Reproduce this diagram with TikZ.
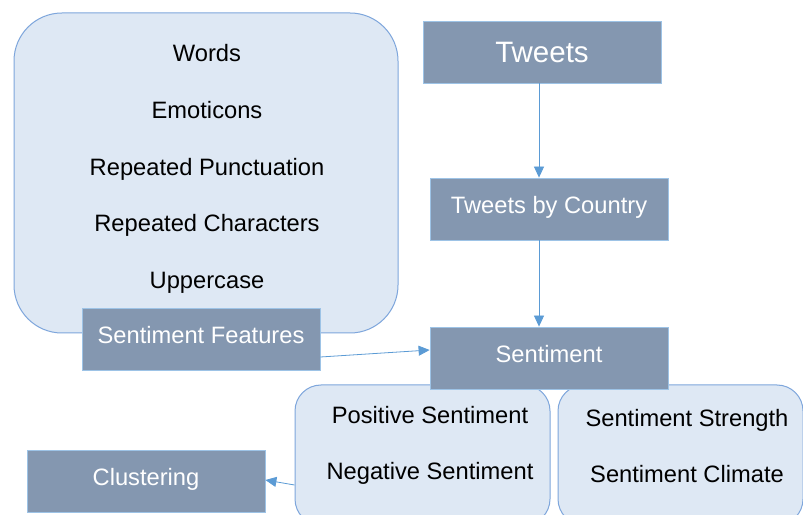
\documentclass[tikz,border=0pt]{standalone}
\usepackage{fontspec}
\setmainfont{Liberation Sans}
\usetikzlibrary{arrows.meta}

\definecolor{procfill}{HTML}{8497B0}
\definecolor{procline}{HTML}{9DC3E6}
\definecolor{groupfill}{HTML}{DEE8F4}
\definecolor{groupline}{HTML}{7EA6DC}
\definecolor{flowline}{HTML}{5B9BD5}

\tikzset{
  procbox/.style={draw=procline, fill=procfill, line width=0.8pt, text=white,
    minimum width=238pt, minimum height=62pt, inner sep=0pt,
    text height=17pt, text depth=8pt,
    font=\fontsize{23.7}{28}\selectfont},
  groupbox/.style={draw=groupline, fill=groupfill, line width=1pt,
    rounded corners=26pt, inner sep=0pt},
  itemtext/.style={inner sep=0pt, text height=17pt, text depth=0pt,
    font=\fontsize{23.7}{28}\selectfont},
  flow/.style={draw=flowline, line width=0.8pt,
    -{Triangle[length=11pt,width=10pt]}}
}

\begin{document}
\begin{tikzpicture}[x=1pt, y=1pt]
\clip (0,0) rectangle (803,514);
\fill[white] (0,0) rectangle (803,514);

% feature group
\node[groupbox, rounded corners=48pt, minimum width=384pt, minimum height=320pt] (featgroup) at (206,341) {};
\node[itemtext] (words)  at (207,461) {Words};
\node[itemtext] (emot)   at (207,404) {Emoticons};
\node[itemtext] (reppun) at (207,347) {Repeated Punctuation};
\node[itemtext] (repchr) at (207,291) {Repeated Characters};
\node[itemtext] (upper)  at (207,234) {Uppercase};
\node[procbox] (sentfeat) at (201,175) {Sentiment Features};

% main column
\node[procbox, text height=21pt, text depth=0pt, font=\fontsize{29.5}{34}\selectfont] (tweets) at (542,462) {Tweets};
\node[procbox] (bycountry) at (549,305) {Tweets by Country};

% sentiment groups
\node[groupbox, minimum width=255pt, minimum height=140pt] (polgroup) at (422.5,59) {};
\node[itemtext] (pos) at (430,99) {Positive Sentiment};
\node[itemtext] (neg) at (430,43) {Negative Sentiment};
\node[groupbox, minimum width=245pt, minimum height=140pt] (strgroup) at (680.5,59) {};
\node[itemtext] (strength) at (687,96) {Sentiment Strength};
\node[itemtext] (climate)  at (687,40) {Sentiment Climate};

\node[procbox] (sentiment) at (549,156) {Sentiment};
\node[procbox] (cluster) at (146,32.5) {Clustering};

% connectors
\draw[flow] ([xshift=-3pt]tweets.south) -- ([xshift=-3pt]tweets.south |- bycountry.north);
\draw[flow] ([xshift=-10pt]bycountry.south) -- ([xshift=-10pt]sentiment.north);
\draw[flow] ([yshift=-18pt]sentfeat.east) -- ([yshift=8pt]sentiment.west);
\draw[flow] ([yshift=-30pt]polgroup.west) -- ([yshift=1.5pt]cluster.east);
\end{tikzpicture}
\end{document}
